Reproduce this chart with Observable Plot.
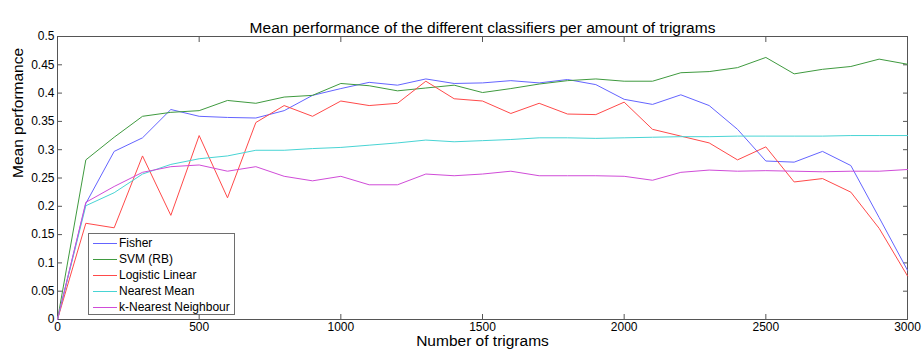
<!DOCTYPE html>
<html>
<head>
<meta charset="utf-8">
<script src="https://cdn.jsdelivr.net/npm/d3@7"></script>
<script src="https://cdn.jsdelivr.net/npm/@observablehq/plot@0.6"></script>
<style>
  body { margin: 0; background: #fff; font-family: "Liberation Sans", Arial, sans-serif; }
  #wrap { position: relative; width: 922px; height: 350px; overflow: hidden; }
  #legend {
    position: absolute; left: 88px; top: 233px; width: 147px; height: 82px;
    box-sizing: border-box; border: 1px solid #6e6e6e; background: #fff;
    padding-top: 1px; font-size: 12px; color: #000;
  }
  #legend .row { position: relative; height: 16px; line-height: 16px; white-space: nowrap; }
  #legend .swatch { position: absolute; left: 4px; top: 8px; width: 24px; height: 1px; }
  #legend .label { position: absolute; left: 30px; top: 0; }
</style>
</head>
<body>
<div id="wrap"></div>
<script>
// Number of trigrams used for each evaluation run
const trigrams = [0, 100, 200, 300, 400, 500, 600, 700, 800, 900, 1000, 1100, 1200, 1300, 1400, 1500,
  1600, 1700, 1800, 1900, 2000, 2100, 2200, 2300, 2400, 2500, 2600, 2700, 2800, 2900, 3000];

// Mean performance per classifier
const fisher = [0, 0.205, 0.297, 0.321, 0.371, 0.359, 0.357, 0.356, 0.369, 0.396, 0.408, 0.419, 0.414, 0.425, 0.417, 0.418,
  0.422, 0.418, 0.424, 0.415, 0.389, 0.380, 0.397, 0.378, 0.336, 0.280, 0.278, 0.297, 0.272, 0.180, 0.087];
const svmRB = [0, 0.282, 0.322, 0.359, 0.366, 0.369, 0.387, 0.382, 0.393, 0.396, 0.417, 0.413, 0.404, 0.409, 0.414, 0.401,
  0.408, 0.416, 0.422, 0.425, 0.421, 0.421, 0.436, 0.438, 0.445, 0.463, 0.434, 0.442, 0.447, 0.460, 0.451];
const logisticLinear = [0, 0.170, 0.162, 0.289, 0.184, 0.325, 0.215, 0.348, 0.378, 0.359, 0.386, 0.378, 0.382, 0.421, 0.390, 0.386,
  0.364, 0.382, 0.363, 0.362, 0.384, 0.336, 0.324, 0.312, 0.282, 0.305, 0.243, 0.249, 0.225, 0.161, 0.077];
const nearestMean = [0, 0.201, 0.224, 0.257, 0.274, 0.284, 0.289, 0.299, 0.299, 0.302, 0.304, 0.308, 0.312, 0.317, 0.314, 0.316,
  0.318, 0.321, 0.321, 0.320, 0.321, 0.322, 0.323, 0.323, 0.324, 0.324, 0.324, 0.324, 0.325, 0.325, 0.325];
const kNearest = [0, 0.207, 0.235, 0.260, 0.270, 0.273, 0.262, 0.270, 0.253, 0.245, 0.253, 0.238, 0.238, 0.257, 0.254, 0.257,
  0.262, 0.254, 0.254, 0.254, 0.253, 0.246, 0.260, 0.264, 0.262, 0.263, 0.262, 0.261, 0.262, 0.262, 0.265];

const seriesNames = ["Fisher", "SVM (RB)", "Logistic Linear", "Nearest Mean", "k-Nearest Neighbour"];
const seriesValues = [fisher, svmRB, logisticLinear, nearestMean, kNearest];
const seriesColors = ["#6464ff", "#3f9a3f", "#ff4a4a", "#48d4d4", "#d04cd8"];

const xTicks = [0, 500, 1000, 1500, 2000, 2500, 3000];
const yTicks = [0, 0.05, 0.1, 0.15, 0.2, 0.25, 0.3, 0.35, 0.4, 0.45, 0.5];

const titleText = "Mean performance of the different classifiers per amount of trigrams";
const xLabel = "Number of trigrams";
const yLabel = "Mean performance";

// Long-format table: one row per (classifier, trigram count)
const rows = seriesNames.flatMap((name, i) =>
  trigrams.map((t, j) => ({series: name, trigrams: t, value: seriesValues[i][j]})));

const axisColor = "#555";
const fmtY = d => String(+d.toFixed(2));

const chart = Plot.plot({
  width: 922,
  height: 350,
  marginLeft: 57,
  marginRight: 15,
  marginTop: 36,
  marginBottom: 31,
  style: {fontFamily: "'Liberation Sans', Arial, sans-serif", fontSize: "12px", color: "#000", background: "#fff"},
  x: {domain: [0, 3000]},
  y: {domain: [0, 0.5]},
  color: {domain: seriesNames, range: seriesColors},
  marks: [
    Plot.frame({stroke: axisColor}),
    // inward tick marks on all four sides
    Plot.axisX(xTicks, {anchor: "bottom", tickSize: -5, tickFormat: () => "", stroke: axisColor, label: null}),
    Plot.axisX(xTicks, {anchor: "top", tickSize: -5, tickFormat: () => "", stroke: axisColor, label: null}),
    Plot.axisY(yTicks, {anchor: "left", tickSize: -5, tickFormat: () => "", stroke: axisColor, label: null}),
    Plot.axisY(yTicks, {anchor: "right", tickSize: -5, tickFormat: () => "", stroke: axisColor, label: null}),
    // tick labels
    Plot.axisX(xTicks, {anchor: "bottom", tickSize: 0, tickPadding: 3, tickFormat: d => String(d), label: null, fill: "#000"}),
    Plot.axisY(yTicks, {anchor: "left", tickSize: 0, tickPadding: 3, tickFormat: fmtY, label: null, fill: "#000"}),
    // classifier curves
    Plot.line(rows, {x: "trigrams", y: "value", z: "series", stroke: "series", strokeWidth: 1}),
    // title and axis labels
    Plot.text([titleText], {frameAnchor: "top", dy: -15, fontSize: 15.5, fill: "#000"}),
    Plot.text([xLabel], {frameAnchor: "bottom", dy: 26, fontSize: 15.5, fill: "#000"}),
    Plot.text([yLabel], {frameAnchor: "left", dx: -39, rotate: -90, fontSize: 15.5, fill: "#000"})
  ]
});

const wrap = document.getElementById("wrap");
wrap.appendChild(chart);

// legend box inside the plot area
const legend = document.createElement("div");
legend.id = "legend";
seriesNames.forEach((name, i) => {
  const row = document.createElement("div");
  row.className = "row";
  const sw = document.createElement("div");
  sw.className = "swatch";
  sw.style.background = seriesColors[i];
  const lab = document.createElement("span");
  lab.className = "label";
  lab.textContent = name;
  row.appendChild(sw);
  row.appendChild(lab);
  legend.appendChild(row);
});
wrap.appendChild(legend);
</script>
</body>
</html>
